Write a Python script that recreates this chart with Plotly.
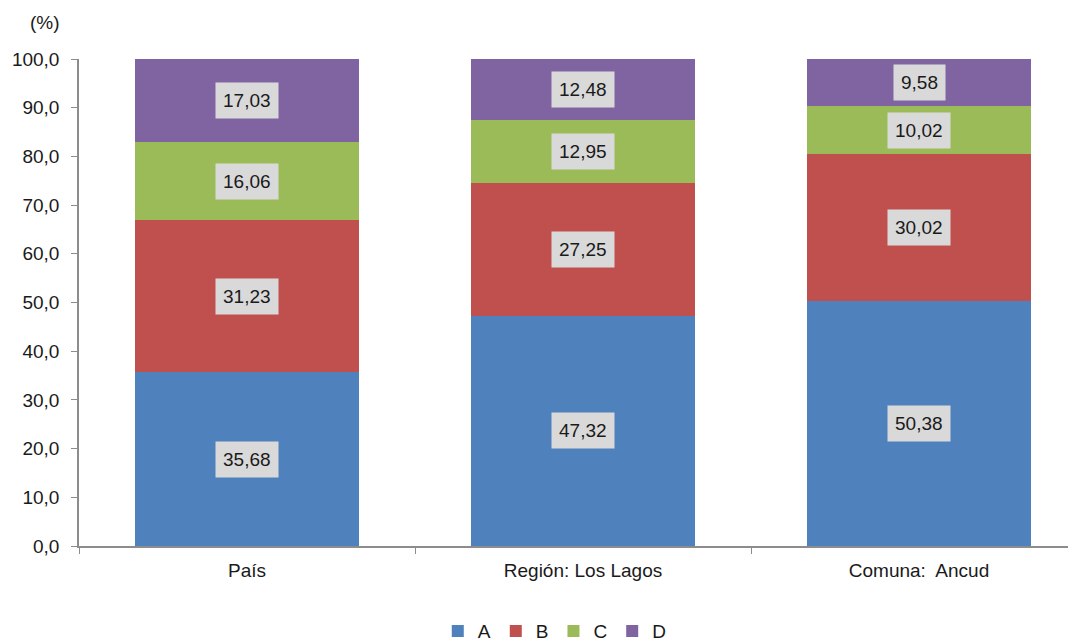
import plotly.graph_objects as go

categories = ["País", "Región: Los Lagos", "Comuna:  Ancud"]
series_names = ["A", "B", "C", "D"]
a_values = [35.68, 47.32, 50.38]
b_values = [31.23, 27.25, 30.02]
c_values = [16.06, 12.95, 10.02]
d_values = [17.03, 12.48, 9.58]
y_ticks = [0, 10, 20, 30, 40, 50, 60, 70, 80, 90, 100]

colors = ["#4f81bd", "#c0504d", "#9bbb59", "#8064a2"]
font_family = "'Liberation Sans', Arial, sans-serif"

fig = go.Figure()
all_values = [a_values, b_values, c_values, d_values]
for name, vals, col in zip(series_names, all_values, colors):
    fig.add_trace(go.Bar(x=categories, y=vals, name=name, marker=dict(color=col, line=dict(width=0))))

# data labels in grey boxes at the middle of each segment
base = [0.0] * len(categories)
for vals in all_values:
    for i, cat in enumerate(categories):
        mid = base[i] + vals[i] / 2
        fig.add_annotation(
            x=cat, y=mid, text=f"{vals[i]:.2f}".replace(".", ","), showarrow=False,
            bgcolor="#d9d9d9", borderpad=7, font=dict(size=19, color="#1a1a1a"),
        )
        base[i] += vals[i]

# page body has an 8px margin, so the figure is shifted by 8px
fig.add_annotation(
    xref="paper", yref="paper", x=-0.034, y=1.075, text="(%)", showarrow=False,
    xanchor="center", yanchor="middle", font=dict(size=19, color="#1a1a1a"),
)

fig.update_layout(
    barmode="stack",
    bargap=0.333,
    width=1084,
    height=641,
    margin=dict(l=71, r=5, t=51, b=103, autoexpand=False),
    plot_bgcolor="white",
    paper_bgcolor="white",
    separators=",.",
    font=dict(family=font_family, size=19, color="#1a1a1a"),
    showlegend=True,
    legend=dict(
        orientation="h", x=0.472, xanchor="center", y=0.028, yanchor="middle",
        yref="container", font=dict(size=19), itemwidth=30, traceorder="normal",
    ),
)
fig.update_yaxes(
    range=[0, 100], tickvals=y_ticks, tickformat=".1f", showgrid=False,
    showline=True, linecolor="#8c8c8c", linewidth=1.5, ticks="outside",
    tickcolor="#8c8c8c", ticklen=6, zeroline=False, ticklabelstandoff=8,
)
fig.update_xaxes(
    showgrid=False, showline=True, linecolor="#8c8c8c", linewidth=1.5,
    ticks="outside", tickson="boundaries", tickcolor="#8c8c8c", ticklen=6,
    ticklabelstandoff=6,
)

fig.write_html("out.html")
